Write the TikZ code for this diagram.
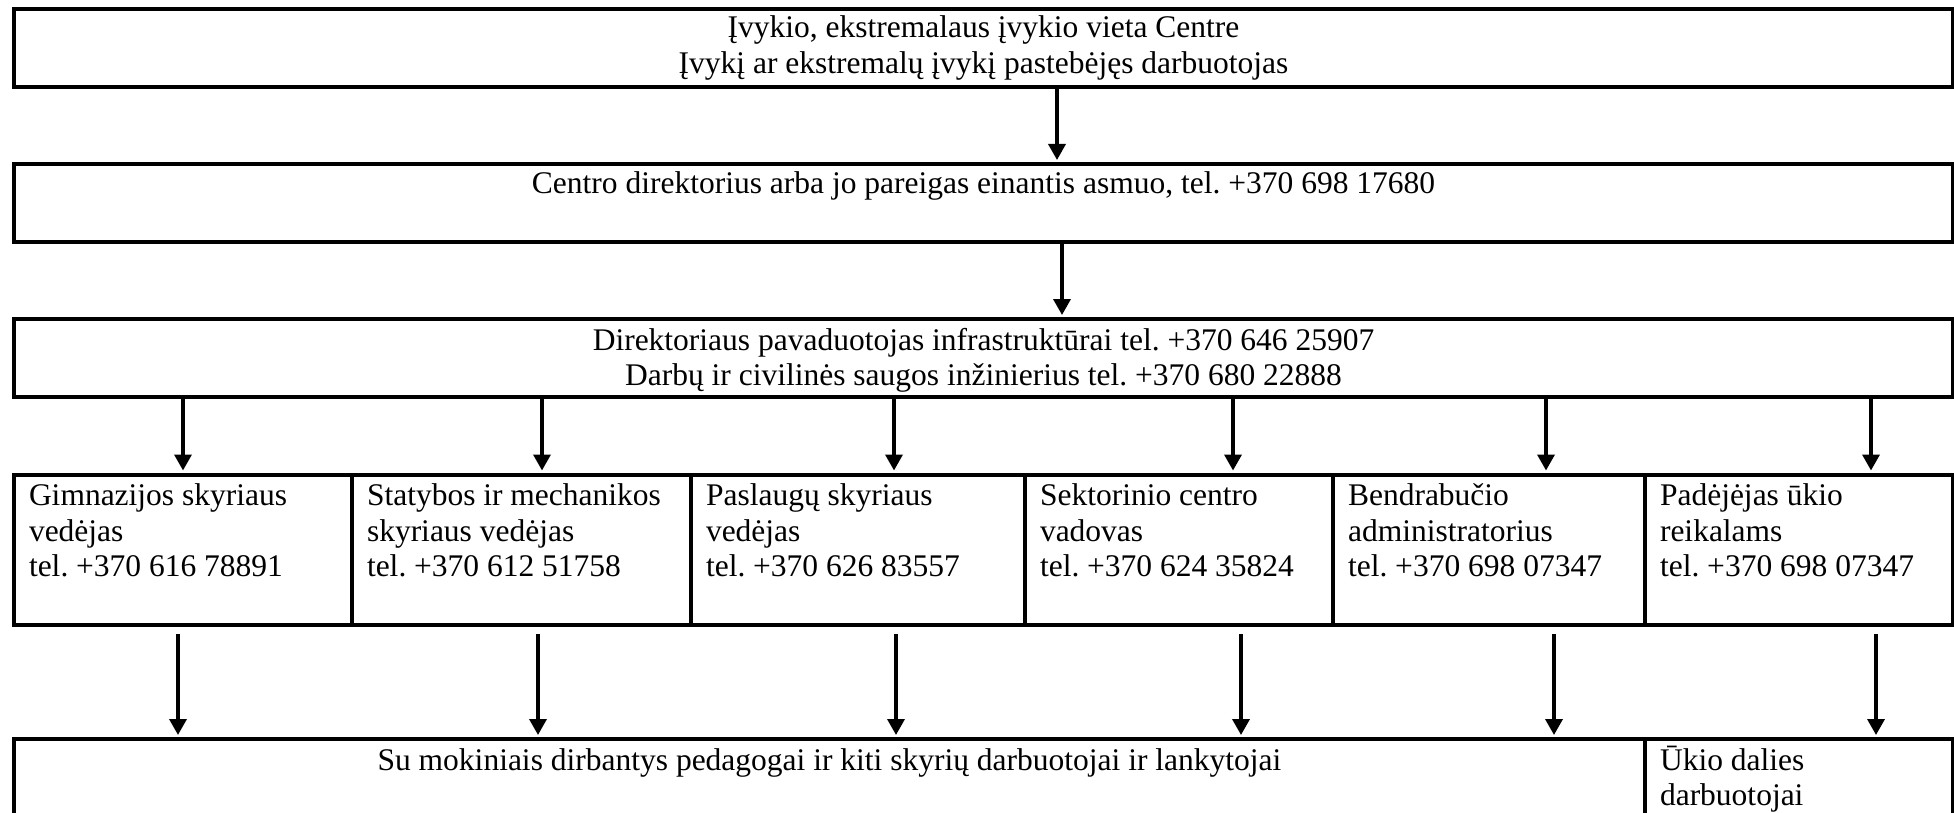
\documentclass[tikz,border=0pt]{standalone}
\usepackage{fontspec}
\setmainfont{Liberation Serif}
\usetikzlibrary{arrows.meta}
\frenchspacing
\newcommand\ctext[4]{\parbox[c][#2pt][t]{#1pt}{\centering\rule{0pt}{#3pt}#4}}
\newcommand\ltext[4]{\parbox[c][#2pt][t]{#1pt}{\raggedright\leftskip=15pt\rule{0pt}{#3pt}#4}}
\begin{document}
\begin{tikzpicture}[x=1pt,y=-1pt,
  box/.style={draw, line width=4pt, inner sep=0pt, anchor=north west},
  arr/.style={line width=3.5pt, -{Triangle[width=17pt,length=16pt]}, shorten >=2pt},
  arrlow/.style={arr, shorten <=7pt},
  font=\fontsize{31.5pt}{35.5pt}\selectfont]
\useasboundingbox (0,0) rectangle (1954,813);
\clip (0,0) rectangle (1954,813);

\node[box] (b1) at (12,7) {\ctext{1939}{78}{29}{Įvykio, ekstremalaus įvykio vieta Centre\\Įvykį ar ekstremalų įvykį pastebėjęs darbuotojas}};
\node[box] (b2) at (12,162) {\ctext{1939}{78}{30}{Centro direktorius arba jo pareigas einantis asmuo, tel. +370 698 17680}};
\node[box] (b3) at (12,317) {\ctext{1939}{78}{31}{Direktoriaus pavaduotojas infrastruktūrai tel. +370 646 25907\\Darbų ir civilinės saugos inžinierius tel. +370 680 22888}};

\node[box] (c1) at (12,472.5) {\ltext{338}{150.5}{31}{Gimnazijos skyriaus\\vedėjas\\tel. +370 616 78891}};
\node[box] (c2) at (350,472.5) {\ltext{339}{150.5}{31}{Statybos ir mechanikos\\skyriaus vedėjas\\tel. +370 612 51758}};
\node[box] (c3) at (689,472.5) {\ltext{334}{150.5}{31}{Paslaugų skyriaus\\vedėjas\\tel. +370 626 83557}};
\node[box] (c4) at (1023,472.5) {\ltext{308}{150.5}{31}{Sektorinio centro\\vadovas\\tel. +370 624 35824}};
\node[box] (c5) at (1331,472.5) {\ltext{312}{150.5}{31}{Bendrabučio\\administratorius\\tel. +370 698 07347}};
\node[box] (c6) at (1643,472.5) {\ltext{308}{150.5}{31}{Padėjėjas ūkio\\reikalams\\tel. +370 698 07347}};

\node[box] (bl) at (12,737) {\ctext{1631}{100}{31}{Su mokiniais dirbantys pedagogai ir kiti skyrių darbuotojai ir lankytojai}};
\node[box] (br) at (1643,737) {\ltext{308}{100}{31}{Ūkio dalies\\darbuotojai}};

\draw[arr] (b1.south -| 1057,0) -- (b2.north -| 1057,0);
\draw[arr] (b2.south -| 1062,0) -- (b3.north -| 1062,0);

\draw[arr] (b3.south -| 183,0) -- (c1.north -| 183,0);
\draw[arr] (b3.south -| 542,0) -- (c2.north -| 542,0);
\draw[arr] (b3.south -| 894,0) -- (c3.north -| 894,0);
\draw[arr] (b3.south -| 1233,0) -- (c4.north -| 1233,0);
\draw[arr] (b3.south -| 1546,0) -- (c5.north -| 1546,0);
\draw[arr] (b3.south -| 1871,0) -- (c6.north -| 1871,0);

\draw[arrlow] (c1.south -| 178,0) -- (bl.north -| 178,0);
\draw[arrlow] (c2.south -| 538,0) -- (bl.north -| 538,0);
\draw[arrlow] (c3.south -| 896,0) -- (bl.north -| 896,0);
\draw[arrlow] (c4.south -| 1241,0) -- (bl.north -| 1241,0);
\draw[arrlow] (c5.south -| 1554,0) -- (bl.north -| 1554,0);
\draw[arrlow] (c6.south -| 1876,0) -- (br.north -| 1876,0);
\end{tikzpicture}
\end{document}
